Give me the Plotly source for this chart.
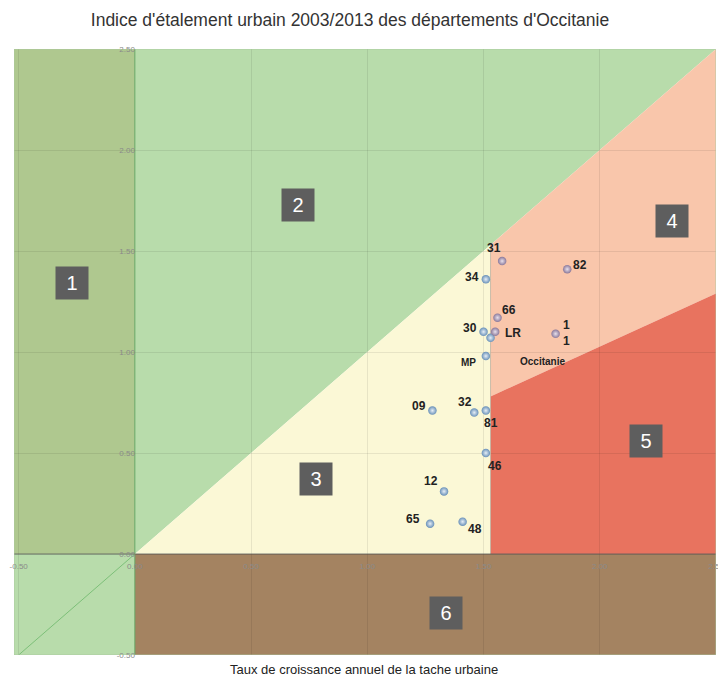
import plotly.graph_objects as go

# ---- data ----
dept_labels = ["31", "82", "34", "66", "30", "LR", "Occitanie", "1<br>1", "MP",
               "09", "32", "81", "46", "12", "65", "48"]
growth_x = [1.58, 1.86, 1.51, 1.56, 1.50, 1.55, 1.53, 1.81, 1.51,
            1.28, 1.46, 1.51, 1.51, 1.33, 1.27, 1.41]
index_y = [1.45, 1.41, 1.36, 1.17, 1.10, 1.10, 1.07, 1.09, 0.98,
           0.71, 0.70, 0.71, 0.50, 0.31, 0.15, 0.16]
point_group = ["p", "p", "b", "p", "b", "p", "b", "p", "b",
               "b", "b", "b", "b", "b", "b", "b"]

zone_names = ["1", "2", "3", "4", "5", "6"]
zone_x = [-0.27, 0.70, 0.78, 2.31, 2.20, 1.34]
zone_y = [1.34, 1.73, 0.37, 1.65, 0.56, -0.29]

tick_vals = [-0.5, 0.0, 0.5, 1.0, 1.5, 2.0, 2.5]
tick_text = ["-0.50", "0.00", "0.50", "1.00", "1.50", "2.00", "2.50"]

x_range = [-0.52, 2.5]
y_range = [-0.5, 2.5]
x_split = 1.53          # vertical split between zones 3 and 4/5
low_line = [0.78, 1.29]  # y of 4/5 boundary at x_split and at 2.5

# ---- label offsets (pixels: dx, dy up) ----
offsets = {
    "31": (-8, 13), "82": (13, 4), "34": (-14, 2), "66": (11, 8),
    "30": (-14, 4), "LR": (18, -1), "Occitanie": (52, -24), "1<br>1": (11, 1),
    "MP": (-17, -6), "09": (-13, 5), "32": (-9, 11), "81": (5, -12),
    "46": (9, -13), "12": (-13, 10), "65": (-17, 5), "48": (12, -7),
}

fig = go.Figure()

colors = {"b": "#6890b8", "p": "#8a7899"}
centers = {"b": "#e6eef6", "p": "#e8e0ec"}
for g in ["b", "p"]:
    xs = [x for x, gg in zip(growth_x, point_group) if gg == g]
    ys = [y for y, gg in zip(index_y, point_group) if gg == g]
    fig.add_trace(go.Scatter(
        x=xs, y=ys, mode="markers", hoverinfo="skip",
        marker=dict(size=8.5, color=colors[g], line=dict(width=0),
                    gradient=dict(type="radial", color=centers[g])),
        showlegend=False))

# region shapes
def poly(pts):
    return "M " + " L ".join(f"{x},{y}" for x, y in pts) + " Z"

x0, x1 = x_range
y0, y1 = y_range
shapes = []
shapes.append(dict(type="rect", x0=x0, x1=0, y0=0, y1=y1,
                   fillcolor="#afc88f", line_width=0, layer="below"))
shapes.append(dict(type="rect", x0=x0, x1=0, y0=y0, y1=0,
                   fillcolor="#b8dcab", line_width=0, layer="below"))
shapes.append(dict(type="path", path=poly([(0, 0), (0, y1), (x1, y1)]),
                   fillcolor="#b8dcab", line_width=0, layer="below"))
shapes.append(dict(type="path", path=poly([(0, 0), (x_split, x_split), (x_split, 0)]),
                   fillcolor="#fbf8d6", line_width=0, layer="below"))
shapes.append(dict(type="path", path=poly([(x_split, x_split), (x1, y1), (x1, low_line[1]), (x_split, low_line[0])]),
                   fillcolor="#f9c6ab", line_width=0, layer="below"))
shapes.append(dict(type="path", path=poly([(x_split, low_line[0]), (x1, low_line[1]), (x1, 0), (x_split, 0)]),
                   fillcolor="#e8735f", line_width=0, layer="below"))
shapes.append(dict(type="rect", x0=0, x1=x1, y0=y0, y1=0,
                   fillcolor="#a48361", line_width=0, layer="below"))
shapes.append(dict(type="line", x0=-0.5, y0=-0.5, x1=0, y1=0,
                   line=dict(color="#7cbf78", width=1), layer="below"))
shapes.append(dict(type="line", x0=x_split, y0=0, x1=x_split, y1=x_split,
                   line=dict(color="rgba(190,180,160,0.8)", width=1), layer="between"))
shapes.append(dict(type="rect", x0=x0, x1=x1, y0=y0, y1=y1,
                   line=dict(color="rgba(170,200,160,0.8)", width=1), layer="above"))

annotations = []
for name, x, y in zip(dept_labels, growth_x, index_y):
    dx, dy = offsets[name]
    small = name in ("MP", "Occitanie")
    annotations.append(dict(
        x=x, y=y, text=f"<b>{name}</b>", showarrow=False,
        xshift=dx, yshift=dy, xanchor="center", yanchor="middle",
        font=dict(family="Liberation Sans, Arial", size=10 if small else 12,
                  color="#222222")))

for name, x, y in zip(zone_names, zone_x, zone_y):
    annotations.append(dict(
        x=x, y=y, text=name, showarrow=False, width=30, height=30,
        bgcolor="#5e5e5e", xanchor="center", yanchor="middle",
        font=dict(family="Liberation Sans, Arial", size=20, color="white")))

annotations.append(dict(
    xref="paper", yref="paper", x=(364 - 14) / 702, y=0, yshift=-14,
    text="Taux de croissance annuel de la tache urbaine", showarrow=False,
    xanchor="center", yanchor="middle",
    font=dict(family="Liberation Sans Narrow, Liberation Sans, Arial", size=13,
              color="#222222")))

W, H = 718, 669  # page body has an 8px margin
x_pos = (0 - x0) / (x1 - x0)
y_pos = (0 - y0) / (y1 - y0)
fig.update_layout(
    width=W, height=H,
    margin=dict(l=6, r=10, t=41, b=22, autoexpand=False),
    paper_bgcolor="white", plot_bgcolor="white",
    title=dict(text="Indice d'étalement urbain 2003/2013 des départements d'Occitanie",
               x=342 / W, xanchor="center", y=1 - 12 / H, yanchor="middle",
               font=dict(family="Liberation Sans, Arial", size=17.5, color="#333333")),
    shapes=shapes, annotations=annotations,
    xaxis=dict(range=x_range, tickvals=tick_vals, ticktext=tick_text,
               anchor="free", position=y_pos, showgrid=True, automargin=False,
               gridcolor="rgba(0,0,0,0.08)", gridwidth=1, ticklabelstandoff=6,
               zeroline=False, showline=False, ticks="",
               tickfont=dict(family="Liberation Sans, Arial", size=8, color="#8a8a8a")),
    yaxis=dict(range=y_range, tickvals=tick_vals, ticktext=tick_text,
               anchor="free", position=x_pos, showgrid=True, automargin=False,
               gridcolor="rgba(0,0,0,0.08)", gridwidth=1,
               zeroline=False, showline=False, ticks="",
               tickfont=dict(family="Liberation Sans, Arial", size=8, color="#8a8a8a")),
)

# axis lines at origin
fig.add_shape(type="line", x0=x0, x1=x1, y0=0, y1=0,
              line=dict(color="rgba(90,90,90,0.8)", width=1), layer="between")
fig.add_shape(type="line", x0=0, x1=0, y0=y0, y1=y1,
              line=dict(color="rgba(100,170,100,0.9)", width=1), layer="between")

fig.write_html("out.html")
